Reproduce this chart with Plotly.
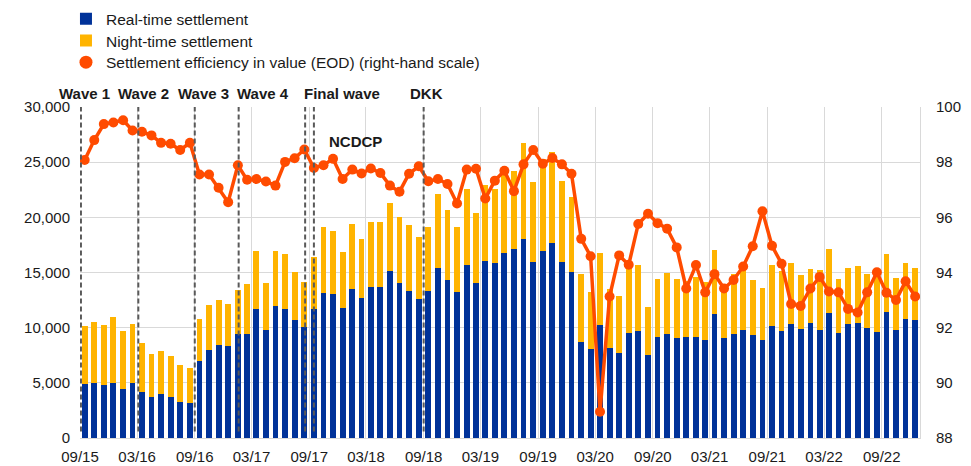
import plotly.graph_objects as go
import pandas as pd

months = pd.date_range("2015-09-01", "2022-12-01", freq="MS").strftime("%Y-%m-%d").tolist()

real_time = [4880, 5030, 4790, 4970, 4450, 4970, 4150, 3700, 3970, 3700, 3240, 3180,
             6970, 8000, 8420, 8360, 9420, 9450, 11700, 9820, 12000, 11700, 10700, 10060,
             11700, 13150, 13090, 11820, 13550, 12700, 13700, 13670, 15150, 14060, 13330, 12640,
             13330, 15420, 14330, 13270, 15700, 14060, 16060, 15880, 16730, 17150, 18030, 15910,
             16910, 17640, 15910, 15030, 8700, 8090, 10240, 8120, 7730, 9520, 9670, 7520,
             9120, 9390, 9060, 9120, 9150, 8880, 11240, 9030, 9420, 9820, 9330, 8880,
             10150, 9730, 10330, 9850, 10420, 9790, 11360, 9520, 10330, 10420, 9970, 9640,
             11420, 9820, 10790, 10700]

night_time = [5240, 5490, 5450, 6000, 5250, 5390, 4430, 3880, 3910, 3690, 3340, 3180,
              3850, 4030, 4100, 3760, 3970, 4520, 5240, 4240, 4940, 5000, 4330, 4090,
              4720, 6000, 5700, 5000, 5870, 5360, 5850, 5940, 6150, 6000, 6000, 5570,
              5820, 6730, 6370, 5820, 6910, 6330, 6910, 6730, 7270, 7030, 8670, 7300,
              8390, 8300, 7420, 6850, 6120, 5120, 6560, 5400, 5120, 5780, 6030, 4360,
              5330, 5520, 5330, 5080, 5400, 5300, 5820, 4970, 5480, 5380, 5000, 4760,
              5490, 5450, 5490, 4880, 4940, 5450, 5730, 4870, 5090, 5160, 4910, 5660,
              5220, 4700, 5090, 4690]

efficiency = [98.08, 98.80, 99.38, 99.44, 99.52, 99.15, 99.10, 98.97, 98.70, 98.67, 98.44, 98.70,
              97.55, 97.55, 97.07, 96.55, 97.89, 97.36, 97.39, 97.30, 97.15, 98.01, 98.14, 98.46,
              97.79, 97.89, 98.12, 97.39, 97.73, 97.59, 97.77, 97.61, 97.15, 96.93, 97.58, 97.85,
              97.31, 97.39, 97.21, 96.50, 97.73, 97.76, 96.68, 97.33, 97.69, 96.95, 97.92, 98.44,
              97.94, 98.15, 97.92, 97.58, 95.22, 94.59, 88.95, 93.13, 94.62, 94.28, 95.76, 96.13,
              95.79, 95.59, 94.91, 93.42, 94.27, 93.28, 93.94, 93.42, 93.73, 94.22, 94.95, 96.22,
              94.97, 94.32, 92.86, 92.79, 93.42, 93.84, 93.31, 93.28, 92.68, 92.55, 93.28, 94.01,
              93.27, 93.00, 93.68, 93.13]

event_dates = ["2015-09-04", "2016-03-05", "2016-09-01", "2017-01-19", "2017-08-19", "2017-09-16", "2018-09-01"]
labels = ["Wave 1", "Wave 2", "Wave 3", "Wave 4", "Final wave", "DKK", "NCDCP"]
label_x = [0.0056, 0.076, 0.1476, 0.2179, 0.3119, 0.4127, 0.3274]
label_y = [1.042, 1.042, 1.042, 1.042, 1.042, 1.042, 0.895]

BLUE = "#003299"
YELLOW = "#FFB400"
ORANGE = "#FF4B00"
FONT = "Arial, Liberation Sans, sans-serif"
TXT = "#1a1a1a"

fig = go.Figure()
fig.add_trace(go.Bar(x=months, y=real_time, name="Real-time settlement",
                     marker=dict(color=BLUE, line=dict(width=0)),
                     xperiod="M1", xperiodalignment="middle", legend="legend"))
fig.add_trace(go.Bar(x=months, y=night_time, name="Night-time settlement",
                     marker=dict(color=YELLOW, line=dict(width=0)),
                     xperiod="M1", xperiodalignment="middle", legend="legend2"))
fig.add_trace(go.Scatter(x=months, y=efficiency, yaxis="y2", mode="lines+markers",
                         line=dict(color=ORANGE, width=3.5),
                         marker=dict(color=ORANGE, size=10),
                         xperiod="M1", xperiodalignment="middle",
                         showlegend=False))
fig.add_trace(go.Scatter(x=[None], y=[None], yaxis="y2", mode="markers",
                         marker=dict(color=ORANGE, size=13),
                         name="Settlement efficiency in value (EOD) (right-hand scale)",
                         legend="legend3"))

for d in event_dates:
    fig.add_shape(type="line", x0=d, x1=d, xref="x", yref="paper", y0=0.02, y1=1,
                  line=dict(color="#595959", width=2, dash="5px,3px"))

for t, x, y in zip(labels, label_x, label_y):
    fig.add_annotation(text="<b>" + t + "</b>", x=x, y=y, xref="paper", yref="paper",
                       showarrow=False, xanchor="center", yanchor="middle",
                       font=dict(size=15, color=TXT, family=FONT))

leg_common = dict(x=-0.0167, xanchor="left", yanchor="top",
                  font=dict(size=15.5, color=TXT, family=FONT),
                  bgcolor="rgba(0,0,0,0)")

# the page body adds an 8px offset, so the figure is 8px smaller with shifted margins
fig.update_layout(
    width=963, height=458,
    margin=dict(l=72, r=51, t=99, b=28, autoexpand=False),
    barmode="stack", bargap=0.37,
    plot_bgcolor="white", paper_bgcolor="white",
    font=dict(family=FONT, size=15, color=TXT),
    showlegend=True,
    legend=dict(y=1.3166, **leg_common),
    legend2=dict(y=1.2510, **leg_common),
    legend3=dict(y=1.1854, **leg_common),
    xaxis=dict(type="date", range=["2015-09-01", "2023-01-01"],
               tick0="2015-09-01", dtick="M6", tickformat="%m/%y",
               showgrid=True, gridcolor="#d9d9d9", gridwidth=1,
               showline=True, linecolor="#d9d9d9", ticks="outside", ticklen=5,
               tickcolor="rgba(0,0,0,0)", tickfont=dict(size=15)),
    yaxis=dict(range=[0, 30000], dtick=5000, tickformat=",", showgrid=True,
               gridcolor="#d9d9d9", gridwidth=1, zeroline=False,
               ticks="outside", ticklen=6, tickcolor="rgba(0,0,0,0)",
               tickfont=dict(size=15)),
    yaxis2=dict(range=[88, 100], dtick=2, overlaying="y", side="right",
                showgrid=False, zeroline=False, showline=True, linecolor="#d9d9d9",
                ticks="outside", ticklen=12, tickcolor="rgba(0,0,0,0)",
                tickfont=dict(size=15)),
)

fig.write_html("out.html")
